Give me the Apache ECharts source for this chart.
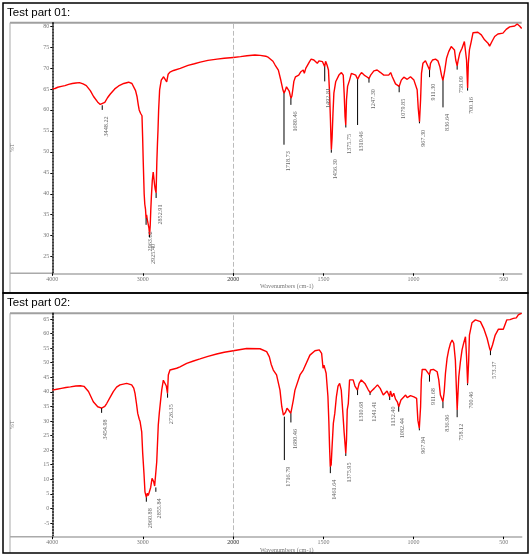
<!DOCTYPE html>
<html>
<head>
<meta charset="utf-8">
<script src="https://cdn.jsdelivr.net/npm/echarts@6.0.0/dist/echarts.min.js"></script>
<style>
  html, body { margin: 0; padding: 0; background: #fff; }
  #chart { width: 531px; height: 557px; }
</style>
</head>
<body>
<div id="chart"></div>
<script>
// ---- data: [wavenumber cm-1, %T] ----
const titles = ['Test part 01:', 'Test part 02:'];

const spectrum1 = [
  [4000,65.0],[3970,65.1],[3940,65.4],[3900,65.6],[3860,65.8],[3820,66.1],[3780,66.3],[3740,66.4],[3700,66.5],
  [3660,66.2],[3624,65.8],[3580,64.6],[3544,63.2],[3500,61.9],[3470,61.3],[3448,61.1],[3420,61.8],[3390,62.9],
  [3359,63.8],[3310,65.0],[3267,65.7],[3210,66.3],[3157,66.6],[3120,66.3],[3102,66.0],[3080,64.6],[3064,63.2],
  [3050,61.2],[3040,60.0],[3025,59.2],[3009,58.6],[3002,53.6],[2995,47.6],[2985,40.0],[2978,37.5],[2970,36.3],
  [2964,34.2],[2958,35.0],[2950,33.8],[2940,33.4],[2932,31.8],[2925,30.2],[2918,32.5],[2912,36.0],[2905,39.4],
  [2895,43.2],[2885,45.2],[2877,44.8],[2869,42.0],[2862,41.0],[2853,40.2],[2845,47.5],[2838,52.0],[2832,55.2],
  [2825,60.0],[2814,64.8],[2796,67.1],[2770,67.9],[2750,67.5],[2736,66.7],[2720,68.5],[2700,69.0],[2660,69.4],
  [2586,69.9],[2500,70.6],[2430,71.0],[2365,71.4],[2280,71.8],[2180,72.1],[2100,72.3],[2000,72.5],
  [1960,72.7],[1924,72.9],[1880,73.1],[1851,73.0],[1820,72.8],[1805,72.5],[1796,72.3],[1780,71.6],[1768,70.7],
  [1750,69.5],[1736,67.0],[1726,65.0],[1719,64.0],[1712,64.6],[1705,65.5],[1698,65.6],[1690,64.5],[1684,63.4],
  [1680,62.8],[1675,63.3],[1670,64.8],[1664,66.8],[1655,67.9],[1637,68.3],[1625,69.1],[1612,69.5],[1606,68.7],
  [1598,69.9],[1577,71.5],[1568,72.1],[1553,71.9],[1543,72.1],[1534,71.1],[1525,71.7],[1505,71.5],[1497,71.2],
  [1493,70.3],[1488,71.6],[1480,70.7],[1472,69.5],[1466,64.0],[1461,57.6],[1458,52.9],[1456,50.5],[1452,53.3],
  [1447,59.2],[1442,64.0],[1432,66.7],[1414,68.3],[1400,68.9],[1390,68.3],[1385,64.0],[1380,58.4],[1376,56.4],
  [1372,62.4],[1366,65.6],[1355,67.1],[1345,68.7],[1334,69.1],[1321,68.3],[1310,67.3],[1299,68.3],[1289,68.9],
  [1274,68.3],[1260,67.9],[1247,67.5],[1238,68.3],[1220,69.3],[1202,69.5],[1183,68.9],[1165,68.3],[1155,68.7],
  [1138,68.3],[1127,68.9],[1118,67.9],[1100,66.2],[1090,66.0],[1080,65.6],[1068,67.1],[1054,67.8],[1035,67.3],
  [1017,67.9],[998,67.1],[989,66.7],[980,64.8],[974,60.4],[967,57.2],[961,62.4],[956,68.7],[948,71.1],[934,71.7],
  [926,71.3],[911,69.5],[906,71.1],[895,71.9],[878,72.1],[865,71.7],[854,70.3],[845,68.3],[837,67.0],[828,69.1],
  [817,72.3],[805,73.9],[791,75.1],[780,75.3],[773,74.3],[766,71.9],[758,70.5],[752,71.9],[744,73.5],[731,74.7],
  [718,76.3],[712,76.7],[706,71.9],[700,65.2],[696,71.1],[690,74.3],[680,76.3],[670,78.4],[643,78.5],[624,77.9],
  [606,76.7],[587,75.9],[578,75.2],[565,76.3],[550,77.5],[532,78.1],[504,78.3],[486,79.2],[467,79.8],[439,80.0],
  [425,80.5],[412,80.0],[400,79.4]
];

const spectrum2 = [
  [4000,40.6],[3950,40.9],[3900,41.2],[3850,41.5],[3800,41.7],[3740,42.0],[3690,42.1],[3650,41.9],[3600,40.1],
  [3547,36.6],[3498,34.9],[3455,34.4],[3420,35.0],[3399,36.0],[3360,38.2],[3326,40.1],[3290,41.6],[3252,42.4],
  [3178,42.9],[3123,42.4],[3100,41.3],[3086,39.5],[3070,36.0],[3056,32.6],[3039,30.6],[3030,29.8],[3012,26.3],
  [3001,18.9],[2987,12.0],[2976,5.7],[2961,3.8],[2950,5.2],[2940,4.4],[2932,4.6],[2913,7.2],[2898,10.3],
  [2888,10.0],[2880,9.2],[2869,7.7],[2856,7.2],[2846,16.0],[2829,28.6],[2818,32.6],[2800,38.0],[2791,40.6],
  [2773,44.0],[2755,44.6],[2740,42.0],[2727,39.5],[2718,45.8],[2700,47.5],[2626,48.1],[2589,48.6],[2515,49.8],
  [2440,50.6],[2368,51.3],[2280,52.2],[2184,53.0],[2100,53.6],[2000,54.1],
  [1926,54.9],[1852,54.8],[1815,53.8],[1800,52.0],[1790,49.5],[1778,47.5],[1760,45.8],[1741,40.6],[1731,34.9],
  [1722,32.0],[1717,31.5],[1710,33.0],[1702,34.4],[1692,33.6],[1681,32.6],[1667,37.2],[1658,40.6],[1630,45.8],
  [1612,47.5],[1575,52.6],[1547,54.1],[1523,54.4],[1510,53.2],[1502,48.1],[1497,49.2],[1485,46.4],[1475,38.4],
  [1470,30.0],[1466,21.2],[1462,14.3],[1457,15.0],[1452,21.2],[1445,29.2],[1437,32.6],[1428,38.4],[1419,42.0],
  [1410,42.9],[1401,40.6],[1392,32.6],[1385,26.0],[1376,18.9],[1372,23.5],[1368,33.8],[1362,36.0],[1355,44.1],
  [1345,43.7],[1335,44.1],[1325,42.0],[1311,40.6],[1302,42.9],[1290,44.1],[1270,42.9],[1252,40.8],[1241,39.7],
  [1230,40.5],[1218,41.2],[1200,42.4],[1185,41.2],[1168,38.9],[1147,40.3],[1140,39.7],[1133,38.3],[1128,40.3],
  [1119,38.3],[1110,39.5],[1100,37.5],[1090,36.6],[1082,34.9],[1070,37.2],[1044,38.9],[1035,38.0],[1017,38.7],
  [998,38.3],[983,37.8],[976,30.3],[968,27.5],[961,34.9],[957,44.1],[952,47.7],[934,47.7],[912,45.8],[906,47.5],
  [898,46.9],[890,47.7],[869,46.9],[860,44.1],[851,38.9],[837,36.6],[830,40.0],[823,46.4],[814,51.5],[805,54.4],
  [795,56.7],[786,57.8],[777,56.7],[768,50.9],[762,40.6],[758,33.8],[749,45.2],[740,50.4],[731,54.4],[722,56.7],
  [712,58.9],[706,52.1],[700,42.9],[694,50.9],[690,59.5],[676,63.7],[657,64.7],[629,64.1],[611,61.8],[592,58.4],
  [578,54.9],[573,54.1],[562,56.1],[547,59.5],[529,61.5],[502,61.5],[483,64.7],[465,64.8],[446,65.2],[430,65.4],
  [419,66.4],[400,67.0]
];

// picked peaks: [wavenumber, %T at the peak]
const peaks1 = [
  [3448.22,61.1],[2963.62,34.2],[2925.40,30.2],[2852.91,40.2],[1718.73,64.0],[1680.46,62.8],[1492.81,70.3],
  [1456.30,50.5],[1375.75,56.4],[1310.46,67.3],[1247.30,67.5],[1079.85,65.6],[967.30,57.2],[911.30,69.5],
  [836.64,67.0],[758.09,70.5],[700.16,65.2]
];
// %T where each leader line ends
const leaderEnd1 = [60.0,32.6,29.6,39.0,51.7,61.2,66.8,49.8,55.8,56.4,66.5,64.2,56.8,67.8,60.6,69.6,64.6];

const peaks2 = [
  [3454.98,34.4],[2960.88,3.8],[2855.84,7.2],[2726.35,39.5],[1716.79,31.5],[1680.46,32.6],[1461.64,14.3],
  [1375.95,18.9],[1310.68,40.6],[1241.41,39.7],[1132.40,38.3],[1082.44,34.9],[967.84,27.5],[911.68,45.8],
  [836.96,36.6],[758.12,33.8],[700.46,42.9],[573.37,54.1]
];
const leaderEnd2 = [32.8,2.3,5.7,38.0,16.6,29.5,12.1,18.0,38.9,38.9,37.2,33.2,26.8,43.5,34.4,31.3,42.3,52.6];

const yTicks1 = [25,30,35,40,45,50,55,60,65,70,75,80];
const yTicks2 = [-5,0,5,10,15,20,25,30,35,40,45,50,55,60,65];
const xTicksHigh = [4000,3000,2000];
const xTicksLow = [2000,1500,1000,500];

// ---- layout ----
const panels = [
  { spec: spectrum1, peaks: peaks1, ends: leaderEnd1, yTicks: yTicks1,
    box: [3, 3, 525, 290], top: 22.7, bottom: 273.3, yMin: 21.04, yMax: 80.79, titleY: 13 },
  { spec: spectrum2, peaks: peaks2, ends: leaderEnd2, yTicks: yTicks2,
    box: [3, 293, 525, 260], top: 313.3, bottom: 536.7, yMin: -9.7, yMax: 66.96, titleY: 303 }
];
const plotLeft = 52.3, breakX = 233.3, plotRight = 521.7;
const tickFont = { fontSize: 6, color: '#777', fontFamily: 'Liberation Serif' };
const plain = v => String(v);

const grid = [], xAxis = [], yAxis = [], series = [], graphic = [];

panels.forEach((p, k) => {
  const h = p.bottom - p.top;
  grid.push({ left: plotLeft, top: p.top, width: breakX - plotLeft, height: h, outerBoundsMode: 'none' });
  grid.push({ left: breakX, top: p.top, width: plotRight - breakX, height: h, outerBoundsMode: 'none' });

  [[2000, 4000, xTicksHigh], [400, 2000, xTicksLow]].forEach(([mn, mx, ticks], j) => {
    xAxis.push({
      type: 'value', gridIndex: 2 * k + j, min: mn, max: mx, inverse: true,
      axisLine: { onZero: false, lineStyle: { color: '#aaa', width: 1.5 } },
      axisTick: { customValues: ticks, length: 2.5, lineStyle: { color: '#000' } },
      axisLabel: Object.assign({ customValues: ticks, margin: 3, formatter: plain }, tickFont),
      splitLine: { show: false }
    });
  });

  yAxis.push({
    type: 'value', gridIndex: 2 * k, min: p.yMin, max: p.yMax,
    name: '%T', nameLocation: 'middle', nameGap: 37, nameRotate: 90,
    nameTextStyle: tickFont,
    axisLine: { onZero: false, lineStyle: { color: '#000', type: 'dotted', width: 1.5 } },
    axisTick: { customValues: p.yTicks, length: 2, lineStyle: { color: '#000' } },
    axisLabel: Object.assign({ customValues: p.yTicks, margin: 3, formatter: plain }, tickFont),
    splitLine: { show: false }
  });
  yAxis.push({
    type: 'value', gridIndex: 2 * k + 1, min: p.yMin, max: p.yMax,
    axisLine: { show: true, onZero: false, lineStyle: { color: '#bbb', type: [4, 3], width: 1 } },
    axisTick: { show: false }, axisLabel: { show: false }, splitLine: { show: false }
  });

  // spectrum, split at the 2000 cm-1 scale change
  [p.spec.filter(d => d[0] >= 2000), p.spec.filter(d => d[0] <= 2000)].forEach((part, j) => {
    series.push({
      type: 'line', xAxisIndex: 2 * k + j, yAxisIndex: 2 * k + j, data: part,
      showSymbol: false, silent: true, animation: false,
      lineStyle: { color: '#ff0000', width: 1.4 }
    });
  });

  // peak leaders + rotated wavenumber labels
  const rows = p.peaks.map((d, i) => [d[0], d[1], p.ends[i]]);
  [rows.filter(r => r[0] >= 2000), rows.filter(r => r[0] < 2000)].forEach((part, j) => {
    series.push({
      type: 'custom', xAxisIndex: 2 * k + j, yAxisIndex: 2 * k + j, data: part,
      clip: false, silent: true, animation: false, z: 5,
      renderItem(params, api) {
        const a = api.coord([api.value(0), api.value(1)]);
        const b = api.coord([api.value(0), api.value(2)]);
        return {
          type: 'group',
          children: [
            { type: 'line', shape: { x1: a[0], y1: a[1], x2: b[0], y2: b[1] },
              style: { stroke: '#000', lineWidth: 1 } },
            { type: 'text', x: b[0] + 4, y: b[1] + 6.5, rotation: Math.PI / 2,
              style: { text: api.value(0).toFixed(2), align: 'right', verticalAlign: 'middle',
                       fontSize: 6.2, fontFamily: 'Liberation Serif', fill: '#666' } }
          ]
        };
      }
    });
  });

  // panel frame, title and the grey chart frame
  graphic.push(
    { type: 'rect', shape: { x: p.box[0], y: p.box[1], width: p.box[2], height: p.box[3] },
      style: { fill: null, stroke: '#000', lineWidth: 1.5 }, z: 10 },
    { type: 'text', x: 7, y: p.titleY,
      style: { text: titles[k], fontSize: 11.5, fontFamily: 'Liberation Sans', fill: '#000', verticalAlign: 'middle' } },
    { type: 'line', shape: { x1: 10, y1: p.top, x2: plotRight, y2: p.top },
      style: { stroke: '#a0a0a0', lineWidth: 2 } },
    { type: 'line', shape: { x1: 10, y1: p.top, x2: 10, y2: p.box[1] + p.box[3] },
      style: { stroke: '#aaa', lineWidth: 1 } },
    { type: 'line', shape: { x1: 10, y1: p.bottom, x2: plotLeft, y2: p.bottom },
      style: { stroke: '#aaa', lineWidth: 1.5 } },
    { type: 'text', x: 260, y: p.bottom + 13.5,
      style: { text: 'Wavenumbers (cm-1)', fontSize: 6.2, fontFamily: 'Liberation Serif', fill: '#777', verticalAlign: 'middle' } }
  );
});

const chart = echarts.init(document.getElementById('chart'), null, { renderer: 'canvas' });
chart.setOption({
  backgroundColor: '#fff',
  animation: false,
  grid, xAxis, yAxis, series, graphic
});
</script>
</body>
</html>
